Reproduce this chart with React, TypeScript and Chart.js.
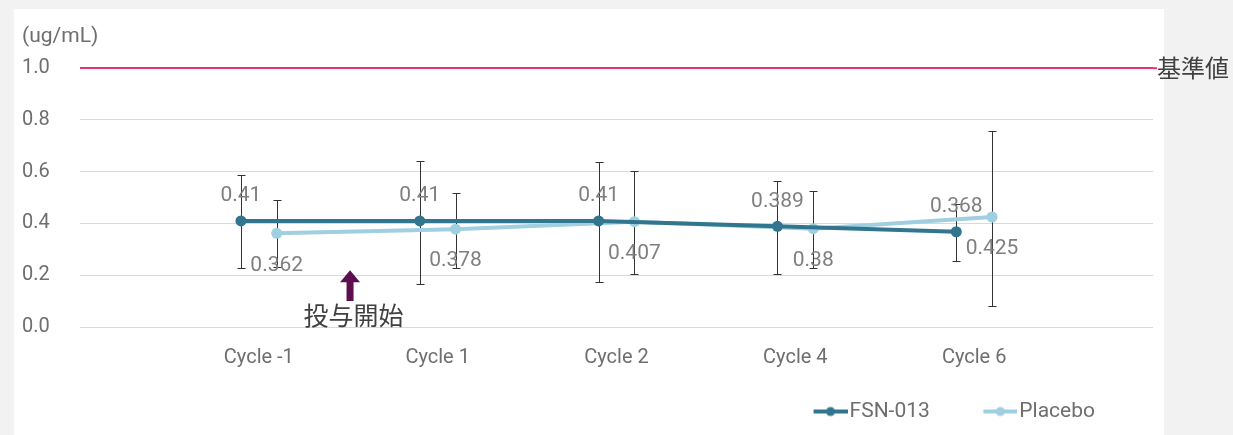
import React, { useEffect, useRef } from 'react';
import { Chart, registerables } from 'chart.js';

Chart.register(...registerables);

const categories = ['Cycle -1', 'Cycle 1', 'Cycle 2', 'Cycle 4', 'Cycle 6'];
const fsnValues = [0.41, 0.41, 0.41, 0.389, 0.368];
const fsnHigh = [0.586, 0.641, 0.638, 0.565, 0.476];
const fsnLow = [0.227, 0.168, 0.174, 0.204, 0.254];
const placeboValues = [0.362, 0.378, 0.407, 0.38, 0.425];
const placeboHigh = [0.492, 0.519, 0.604, 0.527, 0.758];
const placeboLow = [0.232, 0.227, 0.204, 0.227, 0.081];
const seriesNames = ['FSN-013', 'Placebo'];
const referenceValue = 1.0;
const referenceLabel = '基準値';
const unitLabel = '(ug/mL)';
const startLabel = '投与開始';
const startX = 1.51;
const arrowTop = 0.219;
const arrowHeadBase = 0.173;
const arrowBottom = 0.1;
const startLabelY = 0.046;

const LATIN = "Roboto, sans-serif";
const CJK = "'Noto Sans CJK JP', sans-serif";
const FSN_COLOR = '#31758e';
const PLACEBO_COLOR = '#9fcfe0';
const PINK = '#e8336f';

function makeMarker(color: string) {
  const c = document.createElement('canvas');
  c.width = 65;
  c.height = 12;
  const g = c.getContext('2d')!;
  g.strokeStyle = color;
  g.lineWidth = 4;
  g.beginPath();
  g.moveTo(31, 6);
  g.lineTo(65, 6);
  g.stroke();
  g.fillStyle = color;
  g.beginPath();
  g.arc(48, 6, 4.5, 0, Math.PI * 2);
  g.fill();
  return c;
}

const errorBarPlugin = {
  id: 'errorBars',
  beforeDatasetsDraw(chart: any) {
    const { ctx, scales } = chart;
    const x = scales.x;
    const y = scales.y;
    ctx.save();
    ctx.strokeStyle = '#333333';
    ctx.lineWidth = 1;
    chart.data.datasets.forEach((ds: any) => {
      if (!ds.errorHigh) return;
      ds.errorHigh.forEach((hi: number, i: number) => {
        const px = Math.round(x.getPixelForValue(ds.data[i].x)) + 0.5;
        const top = Math.round(y.getPixelForValue(hi)) + 0.5;
        const bot = Math.round(y.getPixelForValue(ds.errorLow[i])) + 0.5;
        ctx.beginPath();
        ctx.moveTo(px, top);
        ctx.lineTo(px, bot);
        ctx.moveTo(px - 4, top);
        ctx.lineTo(px + 4, top);
        ctx.moveTo(px - 4, bot);
        ctx.lineTo(px + 4, bot);
        ctx.stroke();
      });
    });
    ctx.restore();
  },
};

const dataLabelPlugin = {
  id: 'dataLabels',
  afterDatasetsDraw(chart: any) {
    const { ctx } = chart;
    ctx.save();
    ctx.font = `21px ${LATIN}`;
    ctx.fillStyle = '#7f7f7f';
    ctx.textAlign = 'center';
    ctx.textBaseline = 'middle';
    chart.data.datasets.forEach((ds: any, di: number) => {
      if (ds.labelOffset === undefined) return;
      const meta = chart.getDatasetMeta(di);
      meta.data.forEach((el: any, i: number) => {
        ctx.fillText(String(ds.data[i].y), el.x, el.y + ds.labelOffset);
      });
    });
    ctx.restore();
  },
};

const legendPlacePlugin = {
  id: 'legendPlace',
  afterLayout(chart: any) {
    if (chart.legend) {
      chart.legend.right = chart.chartArea.right - 27;
    }
  },
};

const annotationPlugin = {
  id: 'annotations',
  afterDraw(chart: any) {
    const { ctx, scales, chartArea } = chart;
    const x = scales.x;
    const y = scales.y;
    ctx.save();
    const ry = y.getPixelForValue(referenceValue);
    ctx.strokeStyle = PINK;
    ctx.lineWidth = 2;
    ctx.beginPath();
    ctx.moveTo(chartArea.right, ry);
    ctx.lineTo(chartArea.right + 4, ry);
    ctx.stroke();
    ctx.font = `24px ${CJK}`;
    ctx.fillStyle = '#404040';
    ctx.textAlign = 'left';
    ctx.textBaseline = 'middle';
    ctx.fillText(referenceLabel, chartArea.right + 4, ry);
    const ax = x.getPixelForValue(startX);
    const yt = y.getPixelForValue(arrowTop);
    const yh = y.getPixelForValue(arrowHeadBase);
    const yb = y.getPixelForValue(arrowBottom);
    ctx.fillStyle = '#5c0f4e';
    ctx.beginPath();
    ctx.moveTo(ax, yt);
    ctx.lineTo(ax + 10, yh);
    ctx.lineTo(ax + 3.5, yh);
    ctx.lineTo(ax + 3.5, yb);
    ctx.lineTo(ax - 3.5, yb);
    ctx.lineTo(ax - 3.5, yh);
    ctx.lineTo(ax - 10, yh);
    ctx.closePath();
    ctx.fill();
    ctx.font = `25px ${CJK}`;
    ctx.fillStyle = '#404040';
    ctx.textAlign = 'center';
    ctx.fillText(startLabel, x.getPixelForValue(startX + 0.02), y.getPixelForValue(startLabelY));
    ctx.restore();
  },
};

export default function App() {
  const ref = useRef<HTMLCanvasElement>(null);

  useEffect(() => {
    if (!ref.current) return;
    const markers = [makeMarker(FSN_COLOR), makeMarker(PLACEBO_COLOR)];
    const chart = new Chart(ref.current, {
      type: 'line',
      data: {
        datasets: [
          {
            label: seriesNames[0],
            data: fsnValues.map((v, i) => ({ x: i + 1 - 0.1, y: v })),
            borderColor: FSN_COLOR,
            backgroundColor: FSN_COLOR,
            borderWidth: 4,
            pointRadius: 5.5,
            pointBorderWidth: 0,
            errorHigh: fsnHigh,
            errorLow: fsnLow,
            labelOffset: -25,
          } as any,
          {
            label: seriesNames[1],
            data: placeboValues.map((v, i) => ({ x: i + 1 + 0.1, y: v })),
            borderColor: PLACEBO_COLOR,
            backgroundColor: PLACEBO_COLOR,
            borderWidth: 4,
            pointRadius: 5.5,
            pointBorderWidth: 0,
            errorHigh: placeboHigh,
            errorLow: placeboLow,
            labelOffset: 32,
          } as any,
        ],
      },
      options: {
        animation: false,
        responsive: false,
        events: [],
        layout: { padding: { left: 22, right: 80, top: 9, bottom: 3 } },
        scales: {
          x: {
            type: 'linear',
            min: 0,
            max: 6,
            grid: { display: false, drawTicks: false },
            border: { display: false },
            ticks: {
              stepSize: 1,
              autoSkip: false,
              maxRotation: 0,
              padding: 19,
              color: '#6e6e6e',
              font: { family: LATIN, size: 20 },
              callback: (v: any) => categories[Number(v) - 1] ?? '',
            },
            afterFit: (s: any) => {
              s.height = 43;
            },
          },
          y: {
            min: 0,
            max: 1,
            grid: {
              drawTicks: false,
              color: (c: any) => (c.tick && c.tick.value === referenceValue ? PINK : '#d9d9d9'),
              lineWidth: (c: any) => (c.tick && c.tick.value === referenceValue ? 2 : 1),
            },
            border: { display: false },
            ticks: {
              stepSize: 0.2,
              crossAlign: 'far',
              color: '#6e6e6e',
              font: { family: LATIN, size: 20 },
              callback: (v: any) => Number(v).toFixed(1),
            },
            afterFit: (s: any) => {
              s.width = 58;
            },
          },
        },
        plugins: {
          tooltip: { enabled: false },
          title: {
            display: true,
            text: unitLabel,
            align: 'start',
            color: '#6e6e6e',
            font: { family: LATIN, size: 21, weight: 'normal' },
            padding: { top: 15, bottom: 19 },
          },
          legend: {
            position: 'bottom',
            align: 'end',
            labels: {
              usePointStyle: true,
              pointStyleWidth: 48,
              padding: 31,
              color: '#6e6e6e',
              font: { family: LATIN, size: 21 },
              generateLabels: (ch: any) => {
                const items = (Chart.defaults.plugins.legend.labels as any).generateLabels(ch);
                return items.map((it: any, i: number) => ({ ...it, pointStyle: markers[i], lineWidth: 0 }));
              },
            },
          },
        },
      } as any,
      plugins: [errorBarPlugin, dataLabelPlugin, legendPlacePlugin, annotationPlugin],
    });
    return () => chart.destroy();
  }, []);

  return (
    <div style={{ position: 'fixed', left: 0, top: 0, width: 1233, height: 435, background: '#f2f2f2' }}>
      <div style={{ position: 'absolute', left: 14, top: 9, width: 1150, height: 426, background: '#ffffff' }} />
      <canvas ref={ref} width={1233} height={435} style={{ position: 'absolute', left: 0, top: 0, width: 1233, height: 435 }} />
    </div>
  );
}
